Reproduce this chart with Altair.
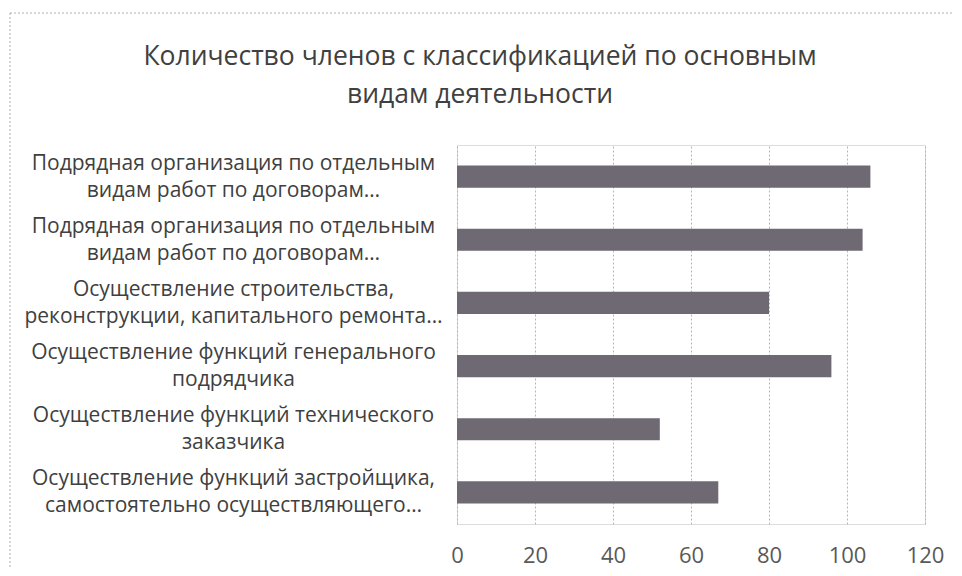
import json
import altair as alt
import pandas as pd

# ---- data ----
label_line1 = [
    "Подрядная организация по отдельным",
    "Подрядная организация по отдельным",
    "Осуществление строительства,",
    "Осуществление функций генерального",
    "Осуществление функций технического",
    "Осуществление функций застройщика,",
]
label_line2 = [
    "видам работ по договорам…",
    "видам работ по договорам…",
    "реконструкции, капитального ремонта…",
    "подрядчика",
    "заказчика",
    "самостоятельно осуществляющего…",
]
values = [106, 104, 80, 96, 52, 67]
x_ticks = [0, 20, 40, 60, 80, 100, 120]
title_lines = ["Количество членов с классификацией по основным", "видам деятельности"]

df = pd.DataFrame({"idx": [str(i) for i in range(len(values))], "value": values})
label_lines = [[a, b] for a, b in zip(label_line1, label_line2)]
label_expr = json.dumps(label_lines, ensure_ascii=False) + "[toNumber(datum.value)]"

FONT = "Open Sans"

bars = alt.Chart(df).mark_bar(color="#6f6973").encode(
    x=alt.X(
        "value:Q",
        scale=alt.Scale(domain=[0, 120], nice=False),
        axis=alt.Axis(
            values=x_ticks, title=None, grid=True, gridColor="#b5b5b5",
            gridDash=[2, 2], domain=False, ticks=False, labelFont=FONT,
            labelFontSize=22, labelColor="#595959", labelPadding=21,
            labelFlush=False, labelOverlap=False,
        ),
    ),
    y=alt.Y(
        "idx:N",
        scale=alt.Scale(paddingInner=0.65, paddingOuter=0.325),
        axis=alt.Axis(
            title=None, domain=False, ticks=False, grid=False,
            labelExpr=label_expr, labelAlign="center", labelBaseline="middle",
            labelPadding=224, labelLineHeight=27, labelFontSize=21,
            labelOffset=-13, labelFont=FONT, labelColor="#404040", labelLimit=0,
        ),
    ),
)

frame = alt.Chart(pd.DataFrame({"a": [0]})).mark_rect(
    fillOpacity=0, stroke="#b0b0b0", strokeDash=[2, 2], strokeWidth=1
).encode(
    x=alt.value(-447), x2=alt.value(520), y=alt.value(-132), y2=alt.value(460)
)

chart = alt.layer(frame, bars).properties(
    width=468,
    height=379,
    autosize=alt.AutoSizeParams(type="none"),
    padding={"left": 449, "top": 137, "right": 29, "bottom": 44},
    title=alt.TitleParams(
        text=title_lines, font=FONT, fontSize=26.5, fontWeight="normal",
        color="#404040", anchor="middle", dx=-211, offset=-96, lineHeight=38,
    ),
).configure_view(stroke=None).configure(background="white")

chart.save("out.html", embed_options={"renderer": "svg", "actions": False})
